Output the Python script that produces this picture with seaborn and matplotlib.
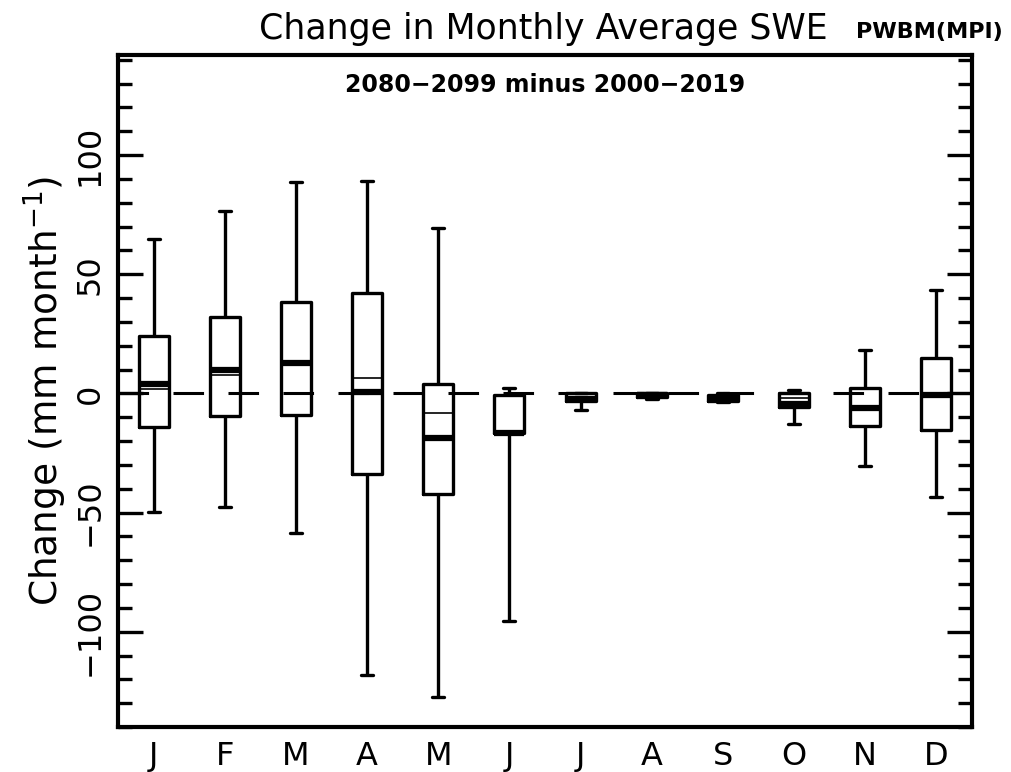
import numpy as np
import pandas as pd
import matplotlib
matplotlib.use("Agg")
import matplotlib.pyplot as plt
import seaborn as sns
from matplotlib.ticker import MultipleLocator

sns.set_theme(style="white")
plt.rcParams['font.family'] = ['DejaVu Sans']
plt.rcParams['text.color'] = 'black'
plt.rcParams['axes.labelcolor'] = 'black'
plt.rcParams['xtick.color'] = 'black'
plt.rcParams['ytick.color'] = 'black'

month_keys = ['Jan', 'Feb', 'Mar', 'Apr', 'May', 'Jun',
              'Jul', 'Aug', 'Sep', 'Oct', 'Nov', 'Dec']
month_labels = ['J', 'F', 'M', 'A', 'M', 'J', 'J', 'A', 'S', 'O', 'N', 'D']

whisk_lo = [-49.6, -47.5, -58.7, -118.0, -127.6, -95.4, -7.1, -1.5, -3.8, -12.7, -30.3, -43.3]
q1       = [-14.2, -9.7, -9.1, -33.7, -42.1, -16.5, -3.2, -2.2, -3.2, -5.7, -13.7, -15.3]
median   = [3.9, 10.0, 12.9, 0.4, -18.8, -16.5, -2.2, -0.8, -2.0, -4.6, -6.2, -0.8]
q3       = [24.0, 32.0, 38.2, 42.3, 3.8, -0.5, 0.0, 0.0, -0.8, 0.0, 2.4, 14.8]
whisk_hi = [64.6, 76.6, 88.5, 89.0, 69.5, 2.4, 0.0, 0.3, 0.0, 1.3, 18.4, 43.3]
mean     = [2.0, 7.8, 12.9, 6.6, -8.3, -16.5, -2.2, -0.8, -2.0, -2.0, -6.2, -0.8]

rows = []
for k, a, b, c, d, e in zip(month_keys, whisk_lo, q1, median, q3, whisk_hi):
    for v in (a, b, c, d, e):
        rows.append({"month": k, "value": v})
df = pd.DataFrame(rows)

fig = plt.figure(figsize=(10.11, 7.72), dpi=100)
ax = fig.add_axes([0.1167, 0.0583, 0.8447, 0.8705])

# zero reference line
ax.axhline(0, color='black', lw=2.2, dashes=(10, 8), zorder=1)

box_w = 0.42
sns.boxplot(data=df, x="month", y="value", order=month_keys, ax=ax,
            whis=(0, 100), width=box_w, fill=False, color='black',
            linecolor='black', linewidth=2.4,
            medianprops=dict(linewidth=4.5, color='black', solid_capstyle='butt'),
            capprops=dict(linewidth=2.4, color='black'), capwidths=0.17)

# thin mean lines
xs = np.arange(len(month_keys))
ax.hlines(mean, xs - box_w / 2, xs + box_w / 2, colors='black', lw=1.2, zorder=3)

ax.set_xlim(-0.5, 11.5)
ax.set_ylim(-140, 142)
ax.set_xticks(xs)
ax.set_xticklabels(month_labels, fontsize=23)
ax.set_xlabel("")
ax.yaxis.set_major_locator(MultipleLocator(50))
ax.yaxis.set_minor_locator(MultipleLocator(10))
ax.set_yticks([-100, -50, 0, 50, 100])
ax.set_yticklabels(['\u2212100', '\u221250', '0', '50', '100'], rotation=90,
                   va='center', fontsize=23)
ax.tick_params(axis='y', which='major', direction='in', length=18, width=2.4,
               left=True, right=True, pad=9)
ax.tick_params(axis='y', which='minor', direction='in', length=10, width=2.4,
               left=True, right=True)
ax.tick_params(axis='x', which='both', length=0, pad=10)
ax.set_ylabel("Change (mm month$^{-1}$)", fontsize=27, labelpad=4)

for s in ax.spines.values():
    s.set_visible(True)
    s.set_linewidth(3)
    s.set_color('black')

ax.text(0.5, 0.955, "2080\u22122099 minus 2000\u22122019", transform=ax.transAxes,
        ha='center', va='center', fontsize=17, fontweight='bold')
fig.text(0.537, 0.962, "Change in Monthly Average SWE", ha='center', va='center',
         fontsize=25)
fig.text(0.919, 0.958, "PWBM(MPI)", ha='center', va='center', fontsize=16,
         fontweight='bold')

fig.savefig("out.png", dpi=100)
